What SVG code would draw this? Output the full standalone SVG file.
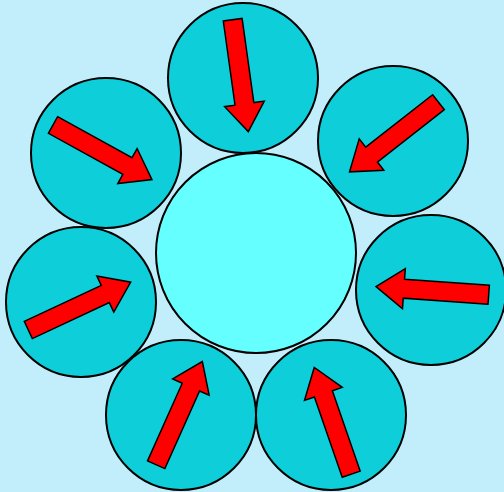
<svg xmlns="http://www.w3.org/2000/svg" xmlns:xlink="http://www.w3.org/1999/xlink" width="504" height="492" viewBox="0 0 504 492">
  <style>
    .outer { fill: #0ECFD9; stroke: #000; stroke-width: 2; }
    .center { fill: #66FFFF; stroke: #000; stroke-width: 2; }
    .arrow { fill: #FF0000; stroke: #000; stroke-width: 1.5; stroke-linejoin: miter; }
  </style>
  <defs>
    <path id="arr" d="M0,-9.5 L85,-9.5 L85,-20 L113,0 L85,20 L85,9.5 L0,9.5 Z"/>
  </defs>
  <rect x="0" y="0" width="504" height="492" fill="#C2EEFC"/>
  <g id="hub">
    <circle class="center" cx="256" cy="253" r="100"/>
  </g>
  <g id="node-top">
    <circle class="outer" cx="243" cy="78" r="75"/>
    <use href="#arr" xlink:href="#arr" class="arrow" transform="translate(232.7,19.7) rotate(82.07)"/>
  </g>
  <g id="node-upper-left">
    <circle class="outer" cx="106" cy="153" r="75"/>
    <use href="#arr" xlink:href="#arr" class="arrow" transform="translate(53,125) rotate(28.88)"/>
  </g>
  <g id="node-upper-right">
    <circle class="outer" cx="393" cy="141" r="75"/>
    <use href="#arr" xlink:href="#arr" class="arrow" transform="translate(438.5,102.2) rotate(141.96)"/>
  </g>
  <g id="node-left">
    <circle class="outer" cx="81" cy="302" r="75"/>
    <use href="#arr" xlink:href="#arr" class="arrow" transform="translate(28.3,330) rotate(-25.05)"/>
  </g>
  <g id="node-right">
    <circle class="outer" cx="431" cy="290" r="75"/>
    <use href="#arr" xlink:href="#arr" class="arrow" transform="translate(488.7,294.7) rotate(-175.94)"/>
  </g>
  <g id="node-bottom-left">
    <circle class="outer" cx="181" cy="415" r="75"/>
    <use href="#arr" xlink:href="#arr" class="arrow" transform="translate(156.2,464.7) rotate(-65.9)"/>
  </g>
  <g id="node-bottom-right">
    <circle class="outer" cx="331" cy="415" r="75"/>
    <use href="#arr" xlink:href="#arr" class="arrow" transform="translate(351.2,474.2) rotate(-109.1)"/>
  </g>
  <g id="connectors"/>
</svg>
